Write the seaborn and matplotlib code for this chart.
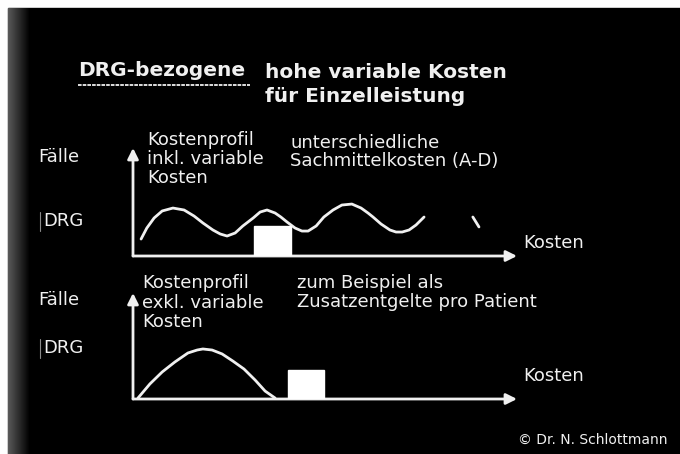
import numpy as np
import pandas as pd
import matplotlib
matplotlib.use("Agg")
import matplotlib.pyplot as plt
import seaborn as sns

# =========================
# Data (Kosten = x, Faelle = y, both on a 0-100 scale)
# =========================
wave_kosten = [2.1, 3.6, 5.5, 7.6, 10.4, 13.3, 15.9, 18.2, 20.8, 22.7, 24.5, 26.6, 28.6,
               31.3, 33.1, 34.9, 37.0, 38.5, 40.1, 42.2, 44.0, 45.6, 47.7, 49.7, 52.1,
               54.4, 57.0, 59.4, 61.2, 62.5, 64.6, 66.9, 68.5, 70.1, 71.9, 73.7, 75.8]
wave_faelle = [15.7, 25.9, 35.2, 41.7, 44.4, 42.6, 37.0, 30.6, 24.1, 20.4, 18.5, 21.3, 27.8,
               35.2, 40.7, 42.6, 39.8, 36.1, 31.5, 25.9, 23.1, 23.1, 27.8, 36.1, 42.6,
               47.2, 48.1, 44.4, 39.8, 36.1, 29.6, 24.1, 22.2, 22.2, 24.1, 28.7, 36.1]
tail_kosten = [88.5, 90.1]
tail_faelle = [36.1, 26.9]

hump_kosten = [1.3, 4.4, 7.6, 10.9, 14.3, 16.7, 18.2, 20.6, 23.2, 26.0, 28.9, 31.8, 34.4, 37.0]
hump_faelle = [0.9, 14.2, 25.5, 34.9, 43.4, 46.2, 47.2, 46.2, 42.5, 35.8, 28.3, 17.9, 7.5, 0.9]

# white blocks: left edge, width, height
block_top = (31.5, 9.6, 27.8)
block_bottom = (40.4, 9.3, 27.4)

title_left = "DRG-bezogene"
title_right = ["hohe variable Kosten", "für Einzelleistung"]
top_profile = ["Kostenprofil", "inkl. variable", "Kosten"]
top_note = ["unterschiedliche", "Sachmittelkosten (A-D)"]
bottom_profile = ["Kostenprofil", "exkl. variable", "Kosten"]
bottom_note = ["zum Beispiel als", "Zusatzentgelte pro Patient"]
copyright_text = "© Dr. N. Schlottmann"

# =========================
# Figure and background
# =========================
sns.set_theme(style="white")
plt.rcParams['font.family'] = ['DejaVu Sans']

fg = "#f0f0f0"
fig = plt.figure(figsize=(6.8, 4.54), dpi=100, facecolor="white")

bg = fig.add_axes([0, 0, 1, 1])
bg.axis("off")
bg.add_patch(plt.Rectangle((8, 8), 672, 446, color="black", zorder=0))
# grainy grey left edge of the scanned slide
grad = np.linspace(0.35, 0.0, 40).reshape(1, -1)
bg.imshow(grad, cmap="gray", vmin=0, vmax=1, extent=(8, 30, 454, 8), aspect="auto", zorder=1)
bg.set_xlim(0, 680)
bg.set_ylim(454, 0)

# Title
bg.text(78, 71, title_left, color=fg, fontsize=14.5, fontweight="bold", va="center")
bg.plot([78, 250], [85, 85], color=fg, lw=1.3, ls=(0, (2, 0.6)))
bg.text(265, 72, title_right[0], color=fg, fontsize=14.5, fontweight="bold", va="center")
bg.text(265, 97, title_right[1], color=fg, fontsize=14.5, fontweight="bold", va="center")

# Upper chart labels
bg.text(38, 157, "Fälle", color=fg, fontsize=13, va="center")
bg.text(43, 221, "DRG", color=fg, fontsize=13, va="center")
bg.plot([40, 40], [212, 231], color="#888888", lw=0.8)
for i, s in enumerate(top_profile):
    bg.text(147, 140 + 19 * i, s, color=fg, fontsize=13, va="center")
for i, s in enumerate(top_note):
    bg.text(290, 143 + 18 * i, s, color=fg, fontsize=13, va="center")
bg.text(523, 243, "Kosten", color=fg, fontsize=13, va="center")

# Lower chart labels
bg.text(38, 300, "Fälle", color=fg, fontsize=13, va="center")
bg.text(43, 348, "DRG", color=fg, fontsize=13, va="center")
bg.plot([40, 40], [339, 358], color="#888888", lw=0.8)
for i, s in enumerate(bottom_profile):
    bg.text(142, 283 + 19.5 * i, s, color=fg, fontsize=13, va="center")
for i, s in enumerate(bottom_note):
    bg.text(297, 283 + 19 * i, s, color=fg, fontsize=13, va="center")
bg.text(523, 376, "Kosten", color=fg, fontsize=13, va="center")

bg.text(667, 440, copyright_text, color=fg, fontsize=10, ha="right", va="center")


# =========================
# Chart axes
# =========================
def chart_axes(rect):
    ax = fig.add_axes(rect)
    ax.set_xlim(0, 100)
    ax.set_ylim(0, 100)
    ax.patch.set_alpha(0)
    for sp in ax.spines.values():
        sp.set_visible(False)
    ax.set_xticks([])
    ax.set_yticks([])
    arrow = dict(arrowstyle="-|>", color=fg, lw=2, mutation_scale=16, shrinkA=0, shrinkB=0)
    ax.annotate("", xy=(1, 0), xytext=(0, 0), xycoords="axes fraction", arrowprops=arrow)
    ax.annotate("", xy=(0, 1), xytext=(0, 0), xycoords="axes fraction", arrowprops=arrow)
    return ax


line_kw = dict(color=fg, lw=2, solid_joinstyle="round", solid_capstyle="round")

ax_top = chart_axes([133 / 680, 1 - 256 / 454, 384 / 680, 108 / 454])
top_df = pd.DataFrame({"Kosten": wave_kosten, "Faelle": wave_faelle})
sns.lineplot(data=top_df, x="Kosten", y="Faelle", sort=False, ax=ax_top, **line_kw)
sns.lineplot(x=tail_kosten, y=tail_faelle, sort=False, ax=ax_top, **line_kw)
ax_top.bar(block_top[0], block_top[2], width=block_top[1], align="edge", color="white", zorder=3)
ax_top.set_xlabel("")
ax_top.set_ylabel("")

ax_bot = chart_axes([133 / 680, 1 - 399 / 454, 384 / 680, 106 / 454])
bot_df = pd.DataFrame({"Kosten": hump_kosten, "Faelle": hump_faelle})
sns.lineplot(data=bot_df, x="Kosten", y="Faelle", sort=False, ax=ax_bot, **line_kw)
ax_bot.bar(block_bottom[0], block_bottom[2], width=block_bottom[1], align="edge", color="white", zorder=3)
ax_bot.set_xlabel("")
ax_bot.set_ylabel("")

fig.savefig("out.png", dpi=100, facecolor="white")
